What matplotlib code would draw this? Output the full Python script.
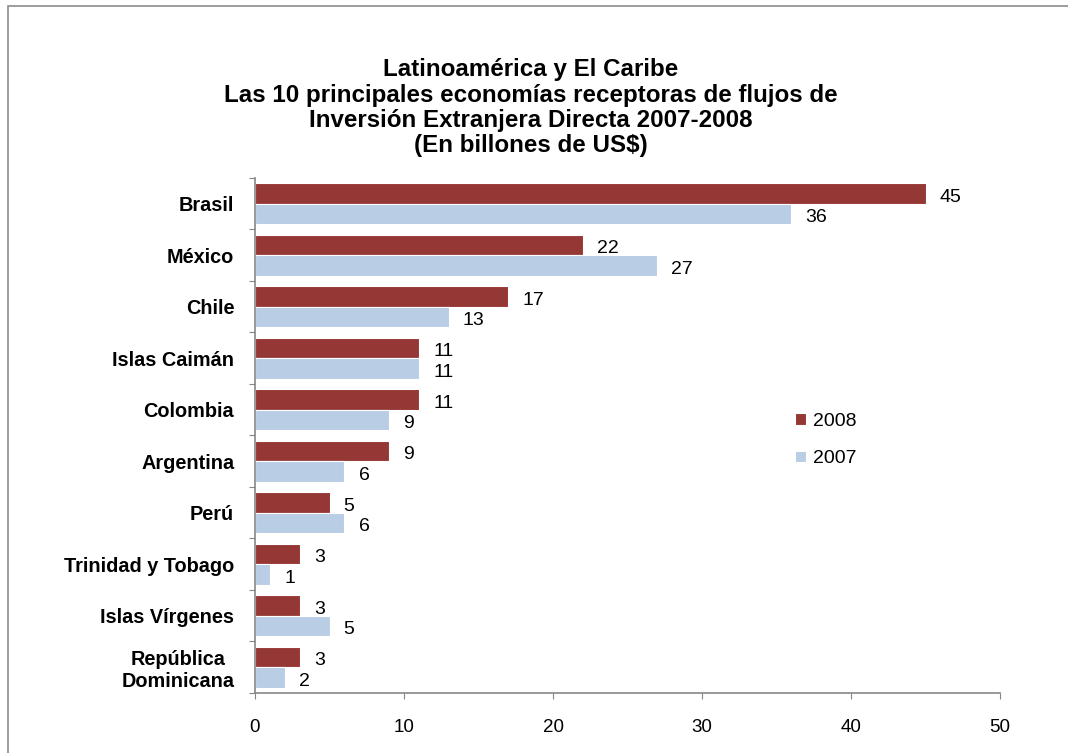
import matplotlib.pyplot as plt
import matplotlib.patches as mpatches
import numpy as np

plt.rcParams['font.family'] = ['Liberation Sans', 'DejaVu Sans']

paises = ['Brasil', 'México', 'Chile', 'Islas Caimán', 'Colombia', 'Argentina',
          'Perú', 'Trinidad y Tobago', 'Islas Vírgenes', 'República\nDominicana']
v2008 = [45, 22, 17, 11, 11, 9, 5, 3, 3, 3]
v2007 = [36, 27, 13, 11, 9, 6, 6, 1, 5, 2]

c2008 = '#953735'
c2007 = '#b9cde5'
gris = '#868686'

fig = plt.figure(figsize=(10.68, 7.53), dpi=100)
ax = fig.add_axes([255 / 1068, 1 - 693 / 753, 745 / 1068, 515 / 753])

# marco exterior del gráfico
fig.patches.append(mpatches.Rectangle((8 / 1068, -0.1), 1.2, 1 - 6 / 753 + 0.1,
                                      transform=fig.transFigure, fill=False,
                                      edgecolor='#8c8c8c', lw=1.2))

y = np.arange(len(paises))
h = 0.4
b1 = ax.barh(y - h / 2, v2008, height=h, color=c2008, edgecolor='white', lw=0.8, label='2008')
b2 = ax.barh(y + h / 2, v2007, height=h, color=c2007, edgecolor='white', lw=0.8, label='2007')

for rects, vals in ((b1, v2008), (b2, v2007)):
    for r, v in zip(rects, vals):
        ax.text(v + 0.95, r.get_y() + r.get_height() / 2 + 0.07, str(v), va='center',
                ha='left', fontsize=14)

ax.set_xlim(0, 50)
ax.set_ylim(len(paises) - 0.5, -0.5)
ax.set_xticks(range(0, 51, 10))
ax.tick_params(axis='x', direction='out', length=4, color=gris, pad=15, labelsize=13.5)

# ticks en los limites de categoria, etiquetas en el centro
ax.set_yticks(np.arange(-0.5, len(paises), 1))
ax.set_yticklabels([])
ax.set_yticks(y, minor=True)
ax.set_yticklabels(paises, minor=True, fontweight='bold', fontsize=14.3, multialignment='center')
ax.tick_params(axis='y', which='major', direction='out', length=4, color=gris)
ax.tick_params(axis='y', which='minor', length=0, pad=15)

for s in ['top', 'right']:
    ax.spines[s].set_visible(False)
for s in ['left', 'bottom']:
    ax.spines[s].set_color(gris)
    ax.spines[s].set_linewidth(1.2)

ax.legend(loc='center left', bbox_to_anchor=(0.702, 0.491), frameon=False, fontsize=14,
          handlelength=0.55, handleheight=0.55, handletextpad=0.35, labelspacing=1.05)

fig.text(0.497, 0.857, 'Latinoamérica y El Caribe\n'
         'Las 10 principales economías receptoras de flujos de\n'
         'Inversión Extranjera Directa 2007-2008\n'
         '(En billones de US$)', ha='center', va='center', fontsize=17.4,
         fontweight='bold', linespacing=1.13)

plt.savefig('out.png', dpi=100)
plt.close()
